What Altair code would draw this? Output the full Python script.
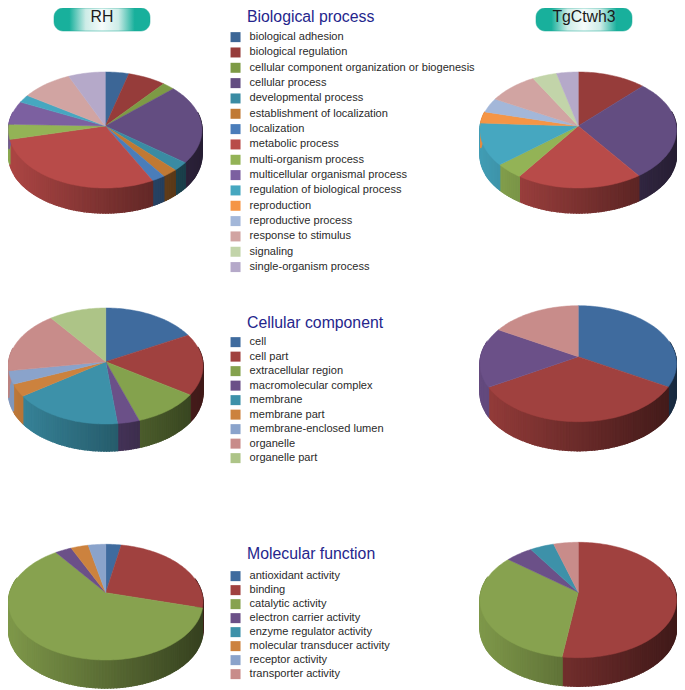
import math
import altair as alt

# ---------- categories ----------
bio_cats = ["biological adhesion", "biological regulation",
            "cellular component organization or biogenesis", "cellular process",
            "developmental process", "establishment of localization", "localization",
            "metabolic process", "multi-organism process",
            "multicellular organismal process", "regulation of biological process",
            "reproduction", "reproductive process", "response to stimulus",
            "signaling", "single-organism process"]
cell_cats = ["cell", "cell part", "extracellular region", "macromolecular complex",
             "membrane", "membrane part", "membrane-enclosed lumen", "organelle",
             "organelle part"]
mol_cats = ["antioxidant activity", "binding", "catalytic activity",
            "electron carrier activity", "enzyme regulator activity",
            "molecular transducer activity", "receptor activity", "transporter activity"]

# ---------- colours ----------
bio_colors = ["#3c6696", "#963c3a", "#7d9a45", "#634d81", "#3a8ba3", "#c07934",
              "#4a7dba", "#b84b49", "#93b356", "#7c60a0", "#46a7c0", "#f59545",
              "#a3b7d9", "#d1a4a2", "#c2d4a9", "#b5a9c9"]
cell_colors = ["#3f6b9e", "#a0413f", "#84a24d", "#6b5088", "#3d91a9", "#cc823e",
               "#8aa3cb", "#c88c8a", "#adc487"]
mol_colors = ["#3f6b9e", "#a0413f", "#87a24f", "#6b5088", "#3d91a9", "#cc823e",
              "#8aa3cb", "#c88c8a"]

# ---------- series values (percent) ----------
rh_bio = [4.2, 6.8, 2.2, 22.2, 2.5, 2.4, 2.1, 28.9, 4.2, 6.5, 2.2, 0, 0, 9.2, 0, 6.6]
tg_bio = [0, 12.1, 0, 28.0, 0, 0, 0, 19.5, 4.3, 0, 11.9, 3.2, 4.0, 8.9, 4.3, 3.8]
rh_cell = [17.1, 17.2, 10.5, 3.4, 17.1, 3.5, 3.7, 17.3, 10.2]
tg_cell = [33.3, 33.3, 0, 16.7, 0, 0, 0, 16.7, 0]
rh_mol = [3.0, 26.2, 60.8, 3.2, 0, 3.4, 3.4, 0]
tg_mol = [0, 52.3, 33.5, 5.1, 4.5, 0, 0, 4.6]

# ---------- pie layout: (left, right, top, bottom, apex y, depth) ----------
layouts = {
    "rh_bio": (8.5, 202, 72, 188, 126, 25),
    "tg_bio": (480, 676.5, 72, 188, 126, 25),
    "rh_cell": (8.5, 203, 308, 424, 361.7, 27),
    "tg_cell": (480, 676.5, 305.7, 421.7, 356.7, 29),
    "rh_mol": (8.5, 203, 544.3, 660, 592.7, 28),
    "tg_mol": (480, 676.5, 542.3, 657.7, 592.3, 28.5),
}

W, H = 669, 682


def to_chart(x, y):
    return [x - 8, y - 8]


def shade(hex_color, f):
    r, g, b = (int(hex_color[i:i + 2], 16) for i in (1, 3, 5))
    return "#%02x%02x%02x" % (int(r * f), int(g * f), int(b * f))


def build(values, cats, colors, layout):
    left, right, top, bottom, apex, depth = layout
    cx, rx = (left + right) / 2, (right - left) / 2
    up, down = apex - top, bottom - apex
    k = (down - up) / (down + up)
    ry = up * (1 + k)
    rx0 = rx * math.sqrt(1 - k * k)

    def rim(a):
        w = 1 + k * math.cos(a)
        return [cx + rx0 * math.sin(a) / w, apex - ry * math.cos(a) / w]

    tops, walls = [], []
    total = sum(values)
    start = 0.0
    for cat, col, val in zip(cats, colors, values):
        if val <= 0:
            continue
        end = start + val / total * 2 * math.pi
        n = max(2, int((end - start) / math.radians(1.5)))
        angs = [start + (end - start) * i / n for i in range(n + 1)]
        ring = [[cx, apex]] + [rim(a) for a in angs] + [[cx, apex]]
        tops.append({"type": "Feature",
                     "geometry": {"type": "Polygon",
                                  "coordinates": [[to_chart(*p) for p in ring]]},
                     "properties": {"category": cat, "color": col}})
        for a0, a1 in zip(angs[:-1], angs[1:]):
            if math.cos((a0 + a1) / 2) > 0.25:
                continue
            p0, p1 = rim(a0), rim(a1)
            t = ((p0[0] + p1[0]) / 2 - cx) / rx
            f = 0.67 - 0.27 * t
            quad = [p0, p1, [p1[0], p1[1] + depth], [p0[0], p0[1] + depth], p0]
            walls.append({"type": "Feature",
                          "geometry": {"type": "Polygon",
                                       "coordinates": [[to_chart(*p) for p in quad]]},
                          "properties": {"color": shade(col, f)}})
        start = end
    return tops, walls


bio_t1, bio_w1 = build(rh_bio, bio_cats, bio_colors, layouts["rh_bio"])
bio_t2, bio_w2 = build(tg_bio, bio_cats, bio_colors, layouts["tg_bio"])
cell_t1, cell_w1 = build(rh_cell, cell_cats, cell_colors, layouts["rh_cell"])
cell_t2, cell_w2 = build(tg_cell, cell_cats, cell_colors, layouts["tg_cell"])
mol_t1, mol_w1 = build(rh_mol, mol_cats, mol_colors, layouts["rh_mol"])
mol_t2, mol_w2 = build(tg_mol, mol_cats, mol_colors, layouts["tg_mol"])

FONT = "Liberation Sans"
LABEL_SIZE = 11.07
proj = dict(type="identity", scale=1, translate=[0, 0])
X = dict(scale=alt.Scale(domain=[8, 8 + W], range=[0, W]), axis=None)
Y = dict(scale=alt.Scale(domain=[8, 8 + H], range=[0, H]), axis=None)

walls = alt.Chart(alt.Data(values=bio_w1 + bio_w2 + cell_w1 + cell_w2 + mol_w1 + mol_w2)).mark_geoshape(
    strokeWidth=1.4).encode(
    color=alt.Color("properties.color:N", scale=None, legend=None),
    stroke=alt.Stroke("properties.color:N", scale=None, legend=None),
).project(**proj)


def tops(features, cats, colors, first_row_x, first_row_y, row_pad):
    lx, ly = to_chart(first_row_x, first_row_y)
    return alt.Chart(alt.Data(values=features)).mark_geoshape(strokeWidth=0.5).encode(
        color=alt.Color(
            "properties.category:N",
            scale=alt.Scale(domain=cats, range=colors),
            legend=alt.Legend(
                title=None, orient="none", legendX=lx, legendY=ly - 4.4,
                symbolType="square", symbolSize=100, symbolStrokeWidth=0, symbolOpacity=1,
                labelFont=FONT, labelFontSize=LABEL_SIZE, labelColor="#2a2a2a",
                labelLimit=400, labelOffset=8.5, rowPadding=row_pad, padding=0, offset=0,
            ),
        ),
        stroke=alt.Stroke("properties.color:N", scale=None, legend=None),
    ).project(**proj)


top_bio = tops(bio_t1 + bio_t2, bio_cats, bio_colors, 230, 36, 3.33)
top_cell = tops(cell_t1 + cell_t2, cell_cats, cell_colors, 230, 341, 2.5)
top_mol = tops(mol_t1 + mol_t2, mol_cats, mol_colors, 230, 575, 2.0)

# ---------- headers ----------
pill_labels = ["RH", "TgCtwh3"]
pill_x = [54, 536]
pill_x2 = [150, 632]
pill_df = alt.Data(values=[
    {"label": l, "x": a, "x2": b, "mid": (a + b) / 2, "y": 8, "y2": 31, "ym": 16.5}
    for l, a, b in zip(pill_labels, pill_x, pill_x2)])
pill = alt.Chart(pill_df).mark_rect(
    cornerRadius=9,
    stroke="#17a692", strokeWidth=0.5,
    fill=alt.LinearGradient(
        gradient="linear", x1=0, x2=1, y1=0, y2=0,
        stops=[alt.GradientStop(offset=0, color="#18b09c"),
               alt.GradientStop(offset=0.16, color="#18b09c"),
               alt.GradientStop(offset=0.33, color="#cdece7"),
               alt.GradientStop(offset=0.5, color="#f6fcfb"),
               alt.GradientStop(offset=0.67, color="#cdece7"),
               alt.GradientStop(offset=0.84, color="#18b09c"),
               alt.GradientStop(offset=1, color="#18b09c")]),
).encode(x=alt.X("x:Q", **X), x2="x2:Q", y=alt.Y("y:Q", **Y), y2="y2:Q")
pill_text = alt.Chart(pill_df).mark_text(
    font=FONT, fontSize=15.8, color="#1a1a1a", align="center", baseline="middle"
).encode(x=alt.X("mid:Q", **X), y=alt.Y("ym:Q", **Y), text="label:N")

headings = ["Biological process", "Cellular component", "Molecular function"]
heading_y = [17, 323, 554]
head = alt.Chart(alt.Data(values=[{"t": t, "x": 247, "y": y} for t, y in zip(headings, heading_y)])).mark_text(
    font=FONT, fontSize=15.8, color="#25258c", align="left", baseline="middle"
).encode(x=alt.X("x:Q", **X), y=alt.Y("y:Q", **Y), text="t:N")

chart = alt.layer(walls, top_bio, top_cell, top_mol, pill, pill_text, head).resolve_scale(
    color="independent", stroke="independent"
).properties(width=W, height=H, padding=0, autosize="none").configure_view(stroke=None)

chart.save("out.html", embed_options={"renderer": "svg", "actions": False})
